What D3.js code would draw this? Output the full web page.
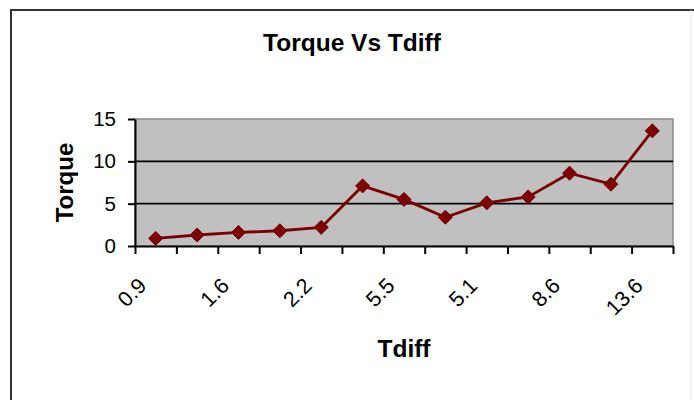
<!DOCTYPE html>
<html>
<head>
<meta charset="utf-8">
<script src="https://cdn.jsdelivr.net/npm/d3@7/dist/d3.min.js"></script>
<style>
  html, body { margin: 0; padding: 0; background: #fff; }
  svg { display: block; }
  text { font-family: "Liberation Sans", Arial, sans-serif; fill: #000; }
</style>
</head>
<body>
<svg id="chart" width="694" height="400"></svg>
<script>
// Category labels along the x axis (Tdiff) and torque per category
const categories = ["0.9", "1.3", "1.6", "1.8", "2.2", "7.1", "5.5", "3.4", "5.1", "5.8", "8.6", "7.3", "13.6"];
const torque = [0.9, 1.3, 1.6, 1.8, 2.2, 7.1, 5.5, 3.4, 5.1, 5.8, 8.6, 7.3, 13.6];
const yTicks = [0, 5, 10, 15];
const labelEvery = 2;

const svg = d3.select("#chart");

const plot = { left: 135, right: 673, top: 119, bottom: 246 };

// chart frame
svg.append("path")
  .attr("d", "M11,400 L11,10 L694,10")
  .attr("fill", "none")
  .attr("stroke", "#333")
  .attr("stroke-width", 2);
svg.append("line")
  .attr("x1", 691).attr("x2", 691).attr("y1", 10).attr("y2", 400)
  .attr("stroke", "#e4e4e4").attr("stroke-width", 1);

const x = d3.scaleLinear().domain([0, categories.length]).range([plot.left, plot.right]);
const y = d3.scaleLinear().domain([0, 15]).range([plot.bottom, plot.top]);

// plot area
svg.append("rect")
  .attr("x", plot.left).attr("y", plot.top)
  .attr("width", plot.right - plot.left).attr("height", plot.bottom - plot.top)
  .attr("fill", "#c0c0c0")
  .attr("stroke", "#8c8c8c").attr("stroke-width", 1.5);

// horizontal gridlines
svg.append("g")
  .selectAll("line")
  .data(yTicks.filter(v => v > 0 && v < 15))
  .join("line")
  .attr("x1", plot.left).attr("x2", plot.right)
  .attr("y1", d => y(d)).attr("y2", d => y(d))
  .attr("stroke", "#000").attr("stroke-width", 1.8);

// y axis
const yAxis = svg.append("g")
  .attr("transform", `translate(${plot.left},0)`)
  .call(d3.axisLeft(y).tickValues(yTicks).tickSize(7).tickPadding(12).tickSizeOuter(0));
yAxis.select(".domain").attr("stroke", "#000").attr("stroke-width", 2);
yAxis.selectAll(".tick line").attr("stroke", "#000").attr("stroke-width", 2);
yAxis.selectAll(".tick text")
  .attr("font-size", 20.5)
  .attr("font-family", "Liberation Sans, Arial, sans-serif")
  .attr("fill", "#000");

// x axis: tick marks between categories
const xAxis = svg.append("g")
  .attr("transform", `translate(0,${plot.bottom})`)
  .call(d3.axisBottom(x).tickValues(d3.range(categories.length + 1)).tickSize(8).tickFormat("").tickSizeOuter(0));
xAxis.select(".domain").attr("stroke", "#000").attr("stroke-width", 2);
xAxis.selectAll(".tick line").attr("stroke", "#000").attr("stroke-width", 2);

// rotated category labels
svg.append("g")
  .selectAll("text")
  .data(categories.map((c, i) => ({ c, i })).filter(d => d.i % labelEvery === 0))
  .join("text")
  .attr("transform", d => `translate(${x(d.i + 0.5) - 8},${plot.bottom + 41}) rotate(-45)`)
  .attr("text-anchor", "end")
  .attr("font-size", 21.5)
  .text(d => d.c);

// series line and diamond markers
const pts = torque.map((v, i) => [x(i + 0.5), y(v)]);
svg.append("path")
  .attr("d", d3.line()(pts))
  .attr("fill", "none")
  .attr("stroke", "#7d0000")
  .attr("stroke-width", 2.8);

svg.append("g")
  .selectAll("path")
  .data(pts)
  .join("path")
  .attr("transform", d => `translate(${d[0]},${d[1]})`)
  .attr("d", "M0,-7 L7,0 L0,7 L-7,0 Z")
  .attr("fill", "#800000")
  .attr("stroke", "#6a0000")
  .attr("stroke-width", 1);

// titles
svg.append("text")
  .attr("x", 352).attr("y", 51)
  .attr("text-anchor", "middle")
  .attr("font-size", 24.5).attr("font-weight", "bold")
  .text("Torque Vs Tdiff");

svg.append("text")
  .attr("x", (plot.left + plot.right) / 2).attr("y", 357)
  .attr("text-anchor", "middle")
  .attr("font-size", 24.5).attr("font-weight", "bold")
  .text("Tdiff");

svg.append("text")
  .attr("transform", `translate(73,${(plot.top + plot.bottom) / 2}) rotate(-90)`)
  .attr("text-anchor", "middle")
  .attr("font-size", 24).attr("font-weight", "bold")
  .text("Torque");
</script>
</body>
</html>
